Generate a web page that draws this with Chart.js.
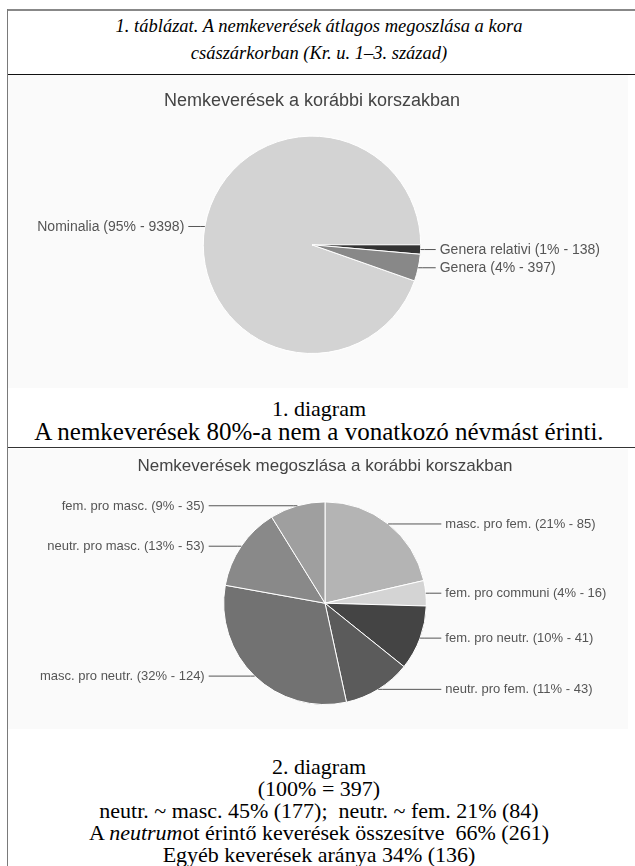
<!DOCTYPE html>
<html lang="hu">
<head>
<meta charset="utf-8">
<script src="https://cdn.jsdelivr.net/npm/chart.js@4.4.0/dist/chart.umd.min.js"></script>
<style>
  body { margin: 0; background: #fff; width: 635px; height: 866px; overflow: hidden; position: relative;
         font-family: "Liberation Serif", "Times New Roman", serif; color: #000; }
  .line { position: absolute; left: 7px; width: 640px; }
  #vline { position: absolute; left: 7px; top: 9px; width: 1px; height: 870px; background: #7a7a7a; }
  .txt { position: absolute; left: 8px; width: 622px; text-align: center; }
  #head { top: 13px; font-style: italic; font-size: 18.5px; line-height: 26.5px; }
  #cap1 { top: 397px; font-size: 22px; line-height: 23px; }
  #cap1 .big { font-size: 25px; }
  #cap2 { top: 756px; font-size: 22px; line-height: 22px; }
  canvas { position: absolute; left: 8px; background: #fafafa; }
  #pie1 { top: 75px; }
  #pie2 { top: 449px; }
</style>
</head>
<body>
<div class="line" style="top:9px;height:2px;background:#888"></div>
<div class="line" style="top:74px;height:1px;background:#111"></div>
<div class="line" style="top:447px;height:1px;background:#333"></div>
<div id="vline"></div>

<div class="txt" id="head">1. táblázat. A nemkeverések átlagos megoszlása a kora<br>császárkorban (Kr. u. 1–3. század)</div>

<canvas id="pie1" width="620" height="313"></canvas>
<div class="txt" id="cap1">1. diagram<br><span class="big">A nemkeverések 80%-a nem a vonatkozó névmást érinti.</span></div>

<canvas id="pie2" width="620" height="280"></canvas>
<div class="txt" id="cap2">2. diagram<br>(100% = 397)<br>neutr. ~ masc. 45% (177);&nbsp; neutr. ~ fem. 21% (84)<br>A <i>neutrum</i>ot érintő keverések összesítve&nbsp; 66% (261)<br>Egyéb keverések aránya 34% (136)</div>

<script>
// earlier period: all gender mixes
const labels1 = ["Nominalia", "Genera relativi", "Genera"];
const values1 = [9398, 138, 397];
const percents1 = [95, 1, 4];
const colors1 = ["#d3d3d3", "#333333", "#888888"];

// breakdown of the 397 "Genera" cases
const labels2 = ["masc. pro fem.", "fem. pro communi", "fem. pro neutr.", "neutr. pro fem.",
                 "masc. pro neutr.", "neutr. pro masc.", "fem. pro masc."];
const values2 = [85, 16, 41, 43, 124, 53, 35];
const percents2 = [21, 4, 10, 11, 32, 13, 9];
const colors2 = ["#b4b4b4", "#d4d4d4", "#444444", "#5b5b5b", "#727272", "#898989", "#9f9f9f"];

const sansFont = "'Liberation Sans', Arial, sans-serif";

// labels outside the pie, joined to the slice middle by a thin line
const leaderLabels = {
  id: "leaderLabels",
  afterDatasetsDraw(chart, args, opts) {
    const ctx = chart.ctx;
    const meta = chart.getDatasetMeta(0);
    const ds = chart.data.datasets[0];
    ctx.save();
    ctx.font = opts.size + "px " + sansFont;
    ctx.fillStyle = "#555";
    ctx.strokeStyle = "#555";
    ctx.lineWidth = 1;
    ctx.textBaseline = "middle";
    meta.data.forEach((arc, i) => {
      const p = arc.getProps(["x", "y", "startAngle", "endAngle", "outerRadius"], true);
      const mid = (p.startAngle + p.endAngle) / 2;
      const px = p.x + Math.cos(mid) * p.outerRadius;
      const py = p.y + Math.sin(mid) * p.outerRadius;
      const right = Math.cos(mid) >= 0;
      const dir = right ? 1 : -1;
      const textX = p.x + dir * (p.outerRadius + opts.gap);
      const text = chart.data.labels[i] + " (" + opts.percents[i] + "% - " + ds.data[i] + ")";

      ctx.beginPath();
      ctx.moveTo(px, py);
      ctx.lineTo(px + dir * 4, py);
      ctx.lineTo(textX - dir * 4, py);
      ctx.stroke();

      ctx.textAlign = right ? "left" : "right";
      ctx.fillText(text, textX, py + 0.5);
    });
    ctx.restore();
  }
};

const pieChart = (id, labels, values, colors, percents, opt) => {
  const config = {
    type: "pie",
    data: {
      labels: labels,
      datasets: [{
        data: values,
        backgroundColor: colors,
        borderColor: "#ffffff",
        borderWidth: 1
      }]
    },
    options: {
      responsive: false,
      animation: false,
      rotation: opt.rotation,
      layout: { padding: opt.padding },
      plugins: {
        legend: { display: false },
        tooltip: { enabled: false },
        title: {
          display: true,
          text: opt.title,
          color: "#444",
          font: { family: sansFont, size: opt.titleSize, weight: "normal" },
          padding: opt.titlePadding
        },
        leaderLabels: { size: opt.labelSize, gap: opt.gap, percents: percents }
      }
    },
    plugins: [leaderLabels]
  };
  return new Chart(document.getElementById(id), config);
};

// Nominalia ends exactly at 3 o'clock, the small slices follow below it
const total1 = values1.reduce((a, b) => a + b, 0);
pieChart("pie1", labels1, values1, colors1, percents1, {
  title: "Nemkeverések a korábbi korszakban",
  titleSize: 18,
  titlePadding: { top: 3, bottom: 24 },
  labelSize: 14,
  gap: 19,
  rotation: 90 + 360 * (values1[1] + values1[2]) / total1,
  padding: { top: 12, left: 0, right: 12, bottom: 34 }
});

pieChart("pie2", labels2, values2, colors2, percents2, {
  title: "Nemkeverések megoszlása a korábbi korszakban",
  titleSize: 17,
  titlePadding: { top: 3, bottom: 25 },
  labelSize: 13,
  gap: 19,
  rotation: 0,
  padding: { top: 4, left: 14, right: 0, bottom: 24 }
});
</script>
</body>
</html>
